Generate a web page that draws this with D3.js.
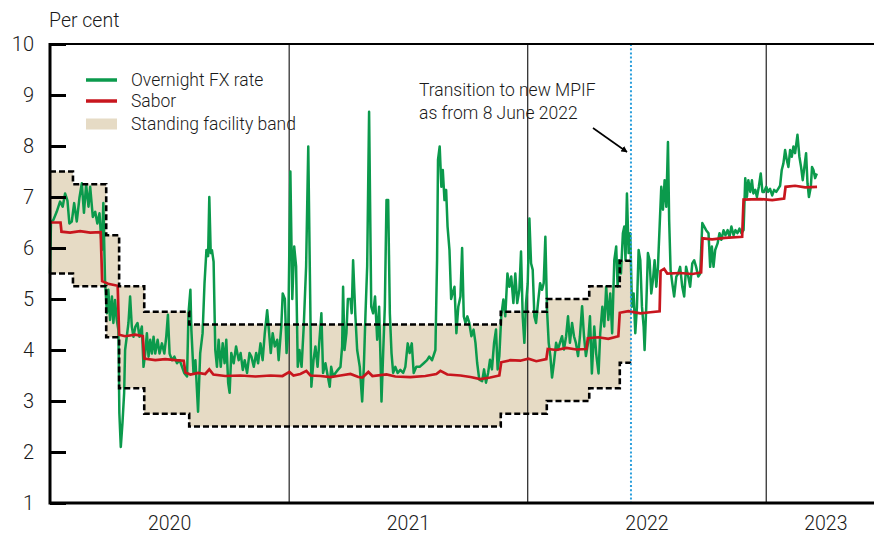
<!DOCTYPE html>
<html>
<head>
<meta charset="utf-8">
<script src="https://cdn.jsdelivr.net/npm/d3@7"></script>
<style>
body { margin: 0; background: #fff; }
svg text { font-family: Roboto, "Liberation Sans", Arial, sans-serif; font-weight: 300; fill: #1a1a1a; }
</style>
</head>
<body>
<svg id="chart"></svg>
<script>
// Overnight FX rate vs Sabor and the standing facility band
// dates are kept as decimal years, converted to Date objects below

const width = 874;
const height = 536;
const plotLeft = 50, plotTop = 44, plotBottom = 503, plotRight = 885.5;

const yTicks = [1, 2, 3, 4, 5, 6, 7, 8, 9, 10];
const years = [2020, 2021, 2022, 2023];
const mpifDate = "2022-06-08";

// [year, upper, lower] - step starts
const bandSteps = [
    [2020.000, 7.5, 5.5],
    [2020.096, 7.25, 5.25],
    [2020.235, 6.25, 4.25],
    [2020.289, 5.25, 3.25],
    [2020.394, 4.75, 2.75],
    [2020.582, 4.5, 2.5],
    [2021.887, 4.75, 2.75],
    [2022.080, 5.0, 3.0],
    [2022.258, 5.25, 3.25],
    [2022.386, 5.75, 3.75],
    [2022.434, 5.75, 3.75]
];

// Sabor [year, value]
const sabor = [
    [2020.000,6.50],[2020.044,6.50],[2020.048,6.32],[2020.084,6.30],[2020.126,6.33],[2020.168,6.30],
    [2020.212,6.31],[2020.218,5.35],[2020.243,5.30],[2020.283,5.26],[2020.289,4.30],[2020.314,4.27],
    [2020.356,4.30],[2020.388,4.27],[2020.394,3.83],[2020.440,3.80],[2020.482,3.82],[2020.524,3.80],
    [2020.559,3.79],[2020.566,3.56],[2020.587,3.52],[2020.620,3.55],[2020.649,3.53],[2020.666,3.62],
    [2020.683,3.52],[2020.733,3.49],[2020.796,3.50],[2020.859,3.48],[2020.922,3.50],[2020.972,3.49],
    [2021.001,3.57],[2021.018,3.50],[2021.047,3.53],[2021.072,3.59],[2021.089,3.50],[2021.131,3.49],
    [2021.173,3.47],[2021.215,3.50],[2021.257,3.53],[2021.290,3.47],[2021.307,3.46],[2021.332,3.57],
    [2021.349,3.49],[2021.408,3.52],[2021.445,3.48],[2021.508,3.47],[2021.571,3.49],[2021.617,3.53],
    [2021.634,3.59],[2021.663,3.52],[2021.718,3.50],[2021.760,3.47],[2021.801,3.43],[2021.843,3.46],
    [2021.881,3.50],[2021.889,3.76],[2021.927,3.80],[2021.969,3.79],[2022.003,3.83],[2022.036,3.78],
    [2022.078,3.82],[2022.084,4.02],[2022.120,4.00],[2022.162,4.04],[2022.204,4.01],[2022.246,4.02],
    [2022.252,4.23],[2022.296,4.25],[2022.338,4.22],[2022.380,4.27],[2022.386,4.73],[2022.422,4.76],
    [2022.472,4.72],[2022.514,4.74],[2022.553,4.76],[2022.557,5.55],[2022.572,5.59],[2022.585,5.50],
    [2022.639,5.51],[2022.690,5.49],[2022.727,5.52],[2022.733,6.19],[2022.773,6.17],[2022.828,6.20],
    [2022.899,6.22],[2022.905,6.95],[2022.974,6.96],[2023.025,6.94],[2023.075,6.97],[2023.081,7.20],
    [2023.121,7.22],[2023.163,7.19],[2023.213,7.20]
];

// Overnight FX rate [year, value]
const fxRate = [
    [2020.000,5.5],[2020.004,6.5],[2020.014,6.55],[2020.028,6.71],[2020.042,6.91],[2020.053,6.81],
    [2020.063,7.07],[2020.073,6.93],[2020.081,6.48],[2020.091,6.52],[2020.101,6.88],[2020.112,6.52],
    [2020.123,6.98],[2020.133,7.27],[2020.142,6.69],[2020.151,7.24],[2020.161,6.81],[2020.168,7.2],
    [2020.179,6.61],[2020.189,6.71],[2020.198,6.48],[2020.207,6.68],[2020.217,5.96],[2020.223,6.88],
    [2020.230,5.37],[2020.238,4.72],[2020.244,5.18],[2020.251,4.59],[2020.259,5.05],[2020.265,4.53],
    [2020.272,4.98],[2020.279,4.59],[2020.286,4.39],[2020.290,2.76],[2020.296,2.1],[2020.303,2.57],
    [2020.310,3.16],[2020.314,4.0],[2020.321,4.26],[2020.328,4.53],[2020.335,5.05],[2020.342,4.46],
    [2020.349,4.26],[2020.357,4.46],[2020.366,4.53],[2020.374,4.26],[2020.384,4.46],[2020.391,3.67],
    [2020.398,3.93],[2020.405,4.33],[2020.412,3.87],[2020.419,4.2],[2020.426,3.93],[2020.433,4.26],
    [2020.440,3.93],[2020.450,4.2],[2020.458,3.93],[2020.468,4.13],[2020.478,3.93],[2020.486,4.26],
    [2020.493,4.69],[2020.500,3.93],[2020.510,3.8],[2020.520,3.87],[2020.531,3.74],[2020.542,3.8],
    [2020.552,3.67],[2020.561,3.55],[2020.573,3.48],[2020.579,4.72],[2020.587,5.18],[2020.591,4.4],
    [2020.600,3.55],[2020.608,3.8],[2020.619,2.79],[2020.628,3.94],[2020.638,4.33],[2020.646,5.31],
    [2020.654,5.96],[2020.661,5.84],[2020.666,7.0],[2020.672,5.9],[2020.677,5.96],[2020.684,5.73],
    [2020.691,4.0],[2020.698,3.67],[2020.705,4.2],[2020.714,3.67],[2020.722,4.13],[2020.730,3.74],
    [2020.737,4.2],[2020.745,3.35],[2020.751,3.16],[2020.758,3.94],[2020.768,3.74],[2020.778,4.07],
    [2020.789,3.8],[2020.797,3.94],[2020.806,3.61],[2020.814,3.8],[2020.824,3.55],[2020.834,3.94],
    [2020.842,3.87],[2020.852,3.67],[2020.862,3.94],[2020.870,3.74],[2020.880,4.13],[2020.889,3.8],
    [2020.898,4.33],[2020.908,4.78],[2020.915,4.4],[2020.923,3.94],[2020.931,4.33],[2020.940,4.07],
    [2020.950,4.2],[2020.956,3.8],[2020.967,4.46],[2020.973,5.11],[2020.982,5.0],[2020.989,3.94],
    [2020.996,4.33],[2021.005,7.5],[2021.013,5.0],[2021.021,6.03],[2021.029,5.64],[2021.036,3.67],
    [2021.043,4.0],[2021.052,3.67],[2021.061,4.46],[2021.071,5.64],[2021.080,7.99],[2021.086,5.77],
    [2021.093,3.28],[2021.102,3.8],[2021.110,4.07],[2021.119,3.67],[2021.127,4.2],[2021.135,4.72],
    [2021.142,3.55],[2021.152,3.74],[2021.162,3.48],[2021.170,3.28],[2021.176,3.67],[2021.184,3.48],
    [2021.194,3.55],[2021.204,3.61],[2021.215,3.67],[2021.222,4.07],[2021.226,5.24],[2021.232,4.0],
    [2021.240,4.33],[2021.246,5.0],[2021.257,5.0],[2021.262,4.72],[2021.268,5.76],[2021.277,4.72],
    [2021.285,4.0],[2021.296,3.67],[2021.306,2.99],[2021.313,3.67],[2021.320,4.72],[2021.327,5.64],
    [2021.335,8.67],[2021.344,4.85],[2021.352,4.72],[2021.360,5.05],[2021.369,4.2],[2021.377,4.85],
    [2021.383,3.8],[2021.387,2.99],[2021.394,3.94],[2021.401,4.85],[2021.408,6.94],[2021.415,6.94],
    [2021.422,4.72],[2021.429,3.94],[2021.436,3.55],[2021.445,3.67],[2021.455,3.55],[2021.466,3.61],
    [2021.478,3.55],[2021.487,3.67],[2021.497,4.13],[2021.505,3.94],[2021.514,4.13],[2021.522,3.55],
    [2021.533,3.67],[2021.547,3.67],[2021.564,3.74],[2021.578,3.8],[2021.587,3.87],[2021.599,3.8],
    [2021.613,4.0],[2021.620,5.77],[2021.624,7.73],[2021.631,7.99],[2021.638,7.2],[2021.644,7.53],
    [2021.651,6.94],[2021.658,7.14],[2021.664,6.42],[2021.672,5.96],[2021.679,5.0],[2021.685,5.11],
    [2021.693,5.24],[2021.701,4.33],[2021.709,4.85],[2021.718,5.05],[2021.725,6.0],[2021.732,4.66],
    [2021.739,4.53],[2021.747,4.66],[2021.755,4.53],[2021.764,4.27],[2021.773,4.4],[2021.781,4.14],
    [2021.788,3.75],[2021.797,3.42],[2021.809,3.39],[2021.817,3.62],[2021.825,3.36],[2021.834,3.55],
    [2021.842,3.81],[2021.850,3.62],[2021.859,4.14],[2021.867,4.4],[2021.874,3.62],[2021.881,3.88],
    [2021.889,4.66],[2021.898,4.99],[2021.906,4.66],[2021.915,5.5],[2021.923,5.24],[2021.931,5.44],
    [2021.940,4.92],[2021.948,5.5],[2021.956,4.92],[2021.965,5.18],[2021.972,5.93],[2021.979,4.66],
    [2021.986,4.14],[2021.993,4.92],[2022.000,5.31],[2022.007,6.58],[2022.014,5.7],[2022.021,5.57],
    [2022.028,4.66],[2022.035,4.53],[2022.043,4.92],[2022.052,5.31],[2022.060,5.18],[2022.067,5.31],
    [2022.074,6.22],[2022.081,4.79],[2022.088,4.14],[2022.095,3.88],[2022.102,3.46],[2022.110,3.75],
    [2022.119,4.14],[2022.127,4.01],[2022.135,4.14],[2022.144,4.27],[2022.152,4.01],[2022.161,4.27],
    [2022.169,4.66],[2022.177,4.14],[2022.186,4.53],[2022.194,4.27],[2022.202,4.14],[2022.211,3.88],
    [2022.219,4.27],[2022.228,4.86],[2022.236,4.27],[2022.244,3.88],[2022.253,4.14],[2022.261,4.66],
    [2022.269,3.54],[2022.279,4.46],[2022.287,3.93],[2022.297,3.54],[2022.304,4.33],[2022.313,4.85],
    [2022.321,4.46],[2022.329,5.24],[2022.338,4.59],[2022.346,5.11],[2022.354,4.33],[2022.363,5.76],
    [2022.371,6.03],[2022.377,5.24],[2022.383,5.76],[2022.391,5.5],[2022.399,6.29],[2022.405,6.42],
    [2022.410,5.76],[2022.416,7.07],[2022.423,5.9],[2022.430,6.29],[2022.437,4.85],[2022.444,5.11],
    [2022.451,4.33],[2022.458,4.85],[2022.465,5.96],[2022.472,5.76],[2022.479,4.85],[2022.486,4.46],
    [2022.490,4.0],[2022.497,4.85],[2022.504,5.9],[2022.511,5.76],[2022.518,5.11],[2022.525,5.37],
    [2022.532,5.76],[2022.539,5.24],[2022.546,5.63],[2022.553,6.42],[2022.560,7.2],[2022.567,6.75],
    [2022.574,7.33],[2022.581,6.81],[2022.588,8.08],[2022.593,6.55],[2022.599,5.57],[2022.606,5.31],
    [2022.614,5.05],[2022.623,5.44],[2022.631,5.5],[2022.639,5.63],[2022.648,5.24],[2022.656,5.05],
    [2022.664,5.63],[2022.673,5.44],[2022.681,5.24],[2022.690,5.7],[2022.698,5.76],[2022.706,5.63],
    [2022.715,5.44],[2022.723,5.5],[2022.732,6.49],[2022.740,6.42],[2022.748,6.35],[2022.758,6.29],
    [2022.765,5.63],[2022.772,6.03],[2022.779,5.63],[2022.786,5.96],[2022.796,6.09],[2022.804,6.29],
    [2022.812,6.16],[2022.821,6.35],[2022.829,6.25],[2022.838,6.35],[2022.846,6.22],[2022.854,6.42],
    [2022.863,6.25],[2022.871,6.35],[2022.879,6.29],[2022.888,6.38],[2022.896,6.29],[2022.905,6.35],
    [2022.912,7.37],[2022.919,7.0],[2022.925,7.33],[2022.933,7.1],[2022.940,7.33],[2022.946,7.07],
    [2022.954,7.14],[2022.961,7.0],[2022.969,7.2],[2022.977,7.46],[2022.984,7.1],[2022.991,7.1],
    [2023.000,7.2],[2023.008,7.1],[2023.016,7.16],[2023.025,7.03],[2023.033,7.14],[2023.042,7.1],
    [2023.050,7.16],[2023.058,7.22],[2023.065,7.53],[2023.072,7.66],[2023.079,7.92],[2023.086,7.73],
    [2023.093,7.59],[2023.100,7.92],[2023.107,7.79],[2023.114,7.99],[2023.121,7.86],[2023.131,8.22],
    [2023.139,7.79],[2023.146,7.59],[2023.153,7.33],[2023.160,7.59],[2023.167,7.86],[2023.173,7.27],
    [2023.179,7.0],[2023.187,7.2],[2023.192,7.59],[2023.198,7.53],[2023.205,7.37],[2023.212,7.46]
];

const green = "#0b9a4c", red = "#c8161e", bandFill = "#e6dbc5", blue = "#2a9fdc";

function yearToDate(t) {
    const yr = Math.floor(t);
    const a = Date.UTC(yr, 0, 1), b = Date.UTC(yr + 1, 0, 1);
    return new Date(a + (t - yr) * (b - a));
}

function createChart() {
    const svg = d3.select("#chart")
        .attr("width", width)
        .attr("height", height);

    const x = d3.scaleUtc()
        .domain([yearToDate(2020), yearToDate(2023.5)])
        .range([plotLeft, plotRight]);
    const y = d3.scaleLinear().domain([1, 10]).range([plotBottom, plotTop]);

    // band fill
    svg.append("path")
        .datum(bandSteps)
        .attr("fill", bandFill)
        .attr("d", d3.area()
            .curve(d3.curveStepAfter)
            .x(d => x(yearToDate(d[0])))
            .y0(d => y(d[2]))
            .y1(d => y(d[1])));

    // year separators
    const yearLines = d3.utcYear.range(yearToDate(2021), x.domain()[1]);
    svg.append("g")
        .selectAll("line")
        .data(yearLines)
        .join("line")
        .attr("x1", d => x(d)).attr("x2", d => x(d))
        .attr("y1", plotTop).attr("y2", plotBottom)
        .attr("stroke", "#222")
        .attr("stroke-width", 1.2);

    const line = d3.line()
        .x(d => x(yearToDate(d[0])))
        .y(d => y(d[1]));

    svg.append("path")
        .datum(fxRate)
        .attr("fill", "none")
        .attr("stroke", green)
        .attr("stroke-width", 2.5)
        .attr("stroke-linejoin", "round")
        .attr("d", line);

    svg.append("path")
        .datum(sabor)
        .attr("fill", "none")
        .attr("stroke", red)
        .attr("stroke-width", 2.7)
        .attr("d", line);

    // dashed band edges
    [1, 2].forEach(i => {
        svg.append("path")
            .datum(bandSteps)
            .attr("fill", "none")
            .attr("stroke", "#000")
            .attr("stroke-width", 2.6)
            .attr("stroke-dasharray", "6,3")
            .attr("d", d3.line()
                .curve(d3.curveStepAfter)
                .x(d => x(yearToDate(d[0])))
                .y(d => y(d[i])));
    });

    // MPIF transition marker
    const mx = x(new Date(mpifDate));
    svg.append("line")
        .attr("x1", mx).attr("x2", mx)
        .attr("y1", plotTop).attr("y2", plotBottom)
        .attr("stroke", blue)
        .attr("stroke-width", 2)
        .attr("stroke-dasharray", "2,2.2");

    // frame
    const frame = svg.append("g").attr("stroke", "#000");
    frame.append("line").attr("x1", plotLeft).attr("x2", width).attr("y1", plotTop).attr("y2", plotTop).attr("stroke-width", 2);
    frame.append("line").attr("x1", plotLeft).attr("x2", width).attr("y1", plotBottom).attr("y2", plotBottom).attr("stroke-width", 3);
    frame.append("line").attr("x1", plotLeft).attr("x2", plotLeft).attr("y1", plotTop - 1).attr("y2", plotBottom + 1.5).attr("stroke-width", 3);

    // y axis
    svg.append("g")
        .attr("transform", `translate(${plotLeft},0)`)
        .call(d3.axisLeft(y).tickValues(yTicks).tickSize(-16).tickPadding(16).tickFormat(d3.format("d")))
        .call(g => g.select(".domain").remove())
        .call(g => g.selectAll(".tick line").attr("stroke", "#000").attr("stroke-width", 3))
        .call(g => g.selectAll(".tick text").attr("font-size", 20).attr("font-family", null).attr("fill", null));

    // year labels, centred on the visible part of each year
    const [d0, d1] = x.domain();
    svg.append("g")
        .selectAll("text")
        .data(years)
        .join("text")
        .attr("x", yr => {
            const s = Math.max(+d0, Date.UTC(yr, 0, 1));
            const e = Math.min(+d1, Date.UTC(yr + 1, 0, 1));
            return x(new Date((s + e) / 2));
        })
        .attr("y", 530)
        .attr("text-anchor", "middle")
        .attr("font-size", 19.5)
        .text(d => d);

    svg.append("text")
        .attr("x", 49).attr("y", 27)
        .attr("font-size", 19.5)
        .text("Per cent");

    // legend
    const legend = svg.append("g").attr("transform", "translate(86,0)");
    const items = [
        { label: "Overnight FX rate", color: green, y: 80, kind: "line" },
        { label: "Sabor", color: red, y: 101, kind: "line" },
        { label: "Standing facility band", color: bandFill, y: 124, kind: "box" }
    ];
    items.forEach(it => {
        if (it.kind === "line") {
            legend.append("line")
                .attr("x1", 0).attr("x2", 31)
                .attr("y1", it.y).attr("y2", it.y)
                .attr("stroke", it.color).attr("stroke-width", 3.5);
        } else {
            legend.append("rect")
                .attr("x", 0).attr("y", it.y - 5.5)
                .attr("width", 31).attr("height", 11)
                .attr("fill", it.color);
        }
        legend.append("text")
            .attr("x", 45).attr("y", it.y)
            .attr("dy", "0.35em")
            .attr("font-size", 17.5)
            .text(it.label);
    });

    // annotation
    const note = svg.append("text").attr("font-size", 17.5);
    note.append("tspan").attr("x", 419).attr("y", 96).text("Transition to new MPIF");
    note.append("tspan").attr("x", 419).attr("y", 119).text("as from 8 June 2022");

    svg.append("defs").append("marker")
        .attr("id", "arrow")
        .attr("viewBox", "0 0 10 10")
        .attr("refX", 9).attr("refY", 5)
        .attr("markerWidth", 4).attr("markerHeight", 4)
        .attr("orient", "auto")
        .append("path")
        .attr("d", "M0,0 L10,5 L0,10 Z")
        .attr("fill", "#000");

    svg.append("line")
        .attr("x1", 593).attr("y1", 128)
        .attr("x2", mx - 4).attr("y2", 152)
        .attr("stroke", "#000")
        .attr("stroke-width", 1.6)
        .attr("marker-end", "url(#arrow)");
}

window.onload = createChart;
</script>
</body>
</html>
